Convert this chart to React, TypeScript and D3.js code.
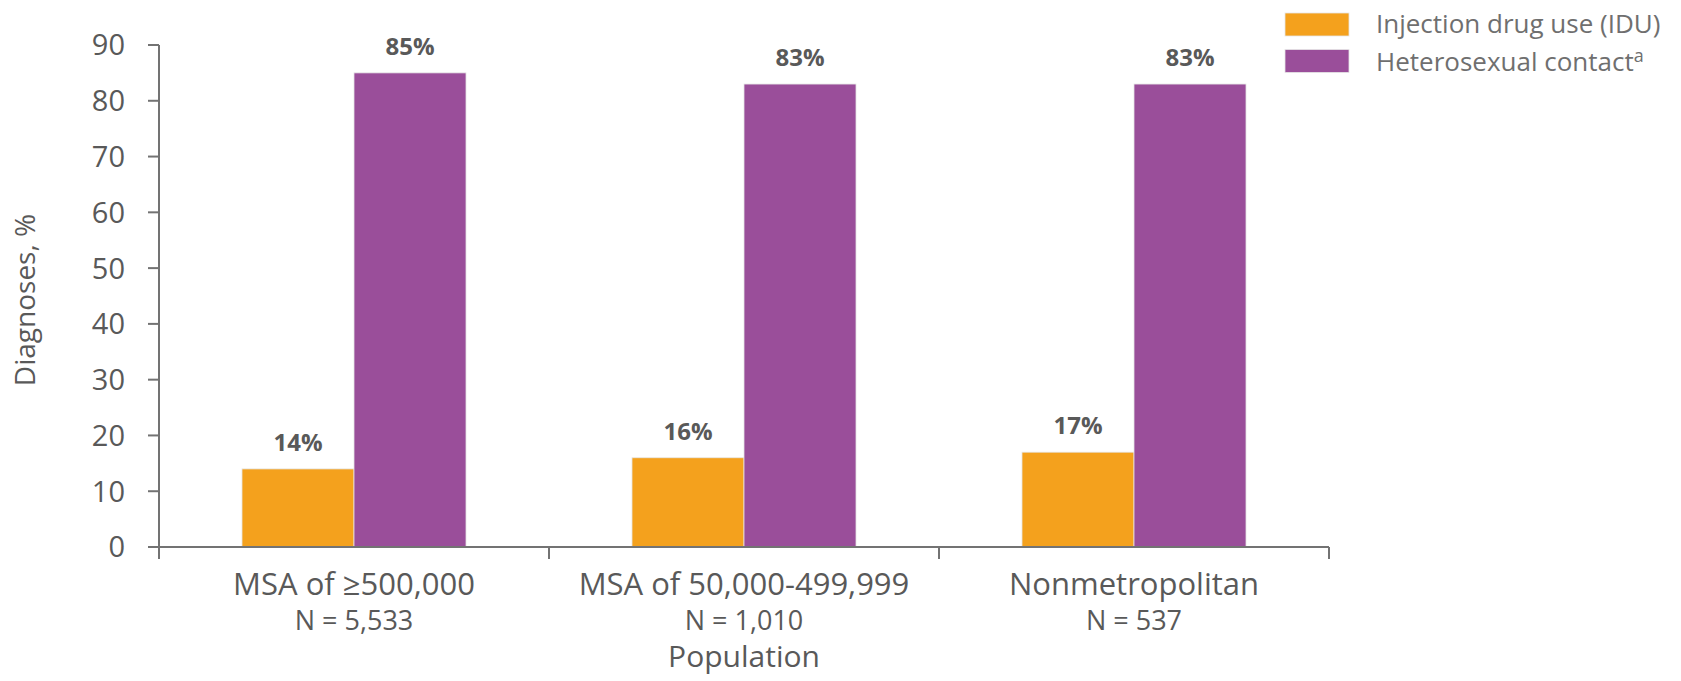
import React from "react";
import * as d3 from "d3";

const categories = ["MSA of ≥500,000", "MSA of 50,000-499,999", "Nonmetropolitan"];
const sampleSizes = ["N = 5,533", "N = 1,010", "N = 537"];
const seriesNames = ["Injection drug use (IDU)", "Heterosexual contact"];
const idu = [14, 16, 17];
const hetero = [85, 83, 83];
const yTicks = [0, 10, 20, 30, 40, 50, 60, 70, 80, 90];

const W = 1681;
const H = 681;
const FONT = "'Open Sans', 'Noto Sans', sans-serif";
const COLORS = ["#F4A11D", "#9A4E9A"];
const TEXT = "#595959";
const AXIS = "#737373";

export default function App() {
  const x0 = d3
    .scaleBand<string>()
    .domain(categories)
    .range([159, 1329])
    .paddingInner(0.4256)
    .paddingOuter(0.2128);
  const x1 = d3
    .scaleBand<string>()
    .domain(seriesNames)
    .range([0, x0.bandwidth()]);
  const y = d3.scaleLinear().domain([0, 90]).range([547, 45]);
  const series = [idu, hetero];
  const step = x0.step();
  const left = 159;
  const right = 1329;

  return (
    <svg
      width={W}
      height={H}
      style={{ position: "absolute", left: 0, top: 0, display: "block", background: "#fff" }}
      fontFamily={FONT}
    >
      {/* bars */}
      {categories.map((c, ci) => (
        <g key={c} transform={`translate(${x0(c)},0)`}>
          {seriesNames.map((s, si) => {
            const v = series[si][ci];
            return (
              <g key={s}>
                <rect
                  x={x1(s)}
                  y={y(v)}
                  width={x1.bandwidth()}
                  height={y(0) - y(v)}
                  fill={COLORS[si]}
                  stroke="#e6e6e6"
                  strokeWidth={0.8}
                />
                <text
                  x={(x1(s) as number) + x1.bandwidth() / 2}
                  y={y(v) - 18}
                  textAnchor="middle"
                  fontSize={24}
                  fontWeight={700}
                  fill={TEXT}
                >
                  {v}%
                </text>
              </g>
            );
          })}
        </g>
      ))}

      {/* y axis */}
      <line x1={left} x2={left} y1={y(90)} y2={y(0) + 12} stroke={AXIS} strokeWidth={2} />
      {yTicks.map((t) => (
        <g key={t}>
          <line x1={left - 11} x2={left} y1={y(t)} y2={y(t)} stroke={AXIS} strokeWidth={2} />
          <text
            x={125}
            y={y(t)}
            dy="0.36em"
            textAnchor="end"
            fontSize={29}
            fill={TEXT}
          >
            {t}
          </text>
        </g>
      ))}
      <text
        transform={`translate(35,300) rotate(-90)`}
        textAnchor="middle"
        fontSize={28}
        fill={TEXT}
      >
        Diagnoses, %
      </text>

      {/* x axis */}
      <line x1={left} x2={right} y1={y(0)} y2={y(0)} stroke={AXIS} strokeWidth={2} />
      {d3.range(categories.length + 1).map((i) => (
        <line
          key={i}
          x1={left + i * step}
          x2={left + i * step}
          y1={y(0)}
          y2={y(0) + 12}
          stroke={AXIS}
          strokeWidth={2}
        />
      ))}
      {categories.map((c, ci) => {
        const cx = (x0(c) as number) + x0.bandwidth() / 2;
        return (
          <g key={c}>
            <text x={cx} y={595} textAnchor="middle" fontSize={31} fill={TEXT}>
              {c}
            </text>
            <text x={cx} y={630} textAnchor="middle" fontSize={27} fill={TEXT}>
              {sampleSizes[ci]}
            </text>
          </g>
        );
      })}
      <text x={(left + right) / 2} y={667} textAnchor="middle" fontSize={30} fill={TEXT}>
        Population
      </text>

      {/* legend */}
      {seriesNames.map((s, si) => (
        <g key={s}>
          <rect
            x={1285}
            y={13 + si * 36.5}
            width={64}
            height={23}
            fill={COLORS[si]}
            stroke="#e6e6e6"
            strokeWidth={0.8}
          />
          <text x={1376} y={33 + si * 38} fontSize={26} fill="#6f6f6f">
            {s}
            {si === 1 ? (
              <tspan fontSize={18} dy={-9}>
                a
              </tspan>
            ) : null}
          </text>
        </g>
      ))}
    </svg>
  );
}
